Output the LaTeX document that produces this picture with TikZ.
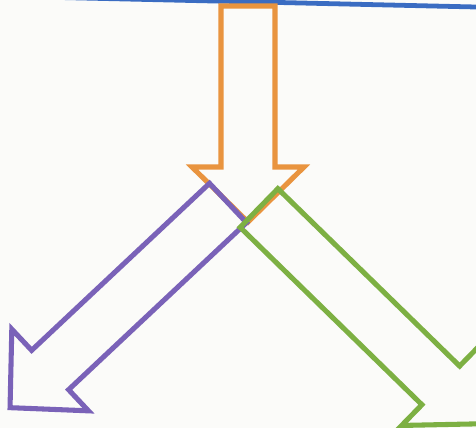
\documentclass[tikz,border=0pt]{standalone}
\usepackage{xcolor}
\usepackage{tikz}
\definecolor{paper}{HTML}{FBFBF9}
\definecolor{rule}{HTML}{3A6CC2}
\definecolor{orangeline}{HTML}{E9943F}
\definecolor{purpleline}{HTML}{7A62B8}
\definecolor{greenline}{HTML}{7DB043}
\tikzset{
  outline/.style={line width=3.6pt, line join=miter, miter limit=10},
  pics/fatarrow/.style={code={
    % tail centre at the origin, tip at (#1,0)
    \draw[pic actions] (0,-27) -- (#1-55,-27) -- (#1-55,-56) -- (#1,0)
      -- (#1-55,56) -- (#1-55,27) -- (0,27) -- cycle;
  }},
}
\begin{document}
\begin{tikzpicture}[x=0.025cm, y=0.025cm]
  \fill[paper] (0,0) rectangle (476,428);
  \useasboundingbox (0,0) rectangle (476,428);
  \clip (0,0) rectangle (476,428);

  \draw[rule, line width=3.4pt] (60,430.5) -- (476,421); % top rule

  \pic[draw=orangeline, outline, rotate=-90] at (248,422) {fatarrow=216};
  \pic[draw=purpleline, outline, rotate=223.2] at (228,225) {fatarrow=299};
  \pic[draw=greenline, outline, rotate=-44.3] at (259,220) {fatarrow=309};
\end{tikzpicture}
\end{document}
